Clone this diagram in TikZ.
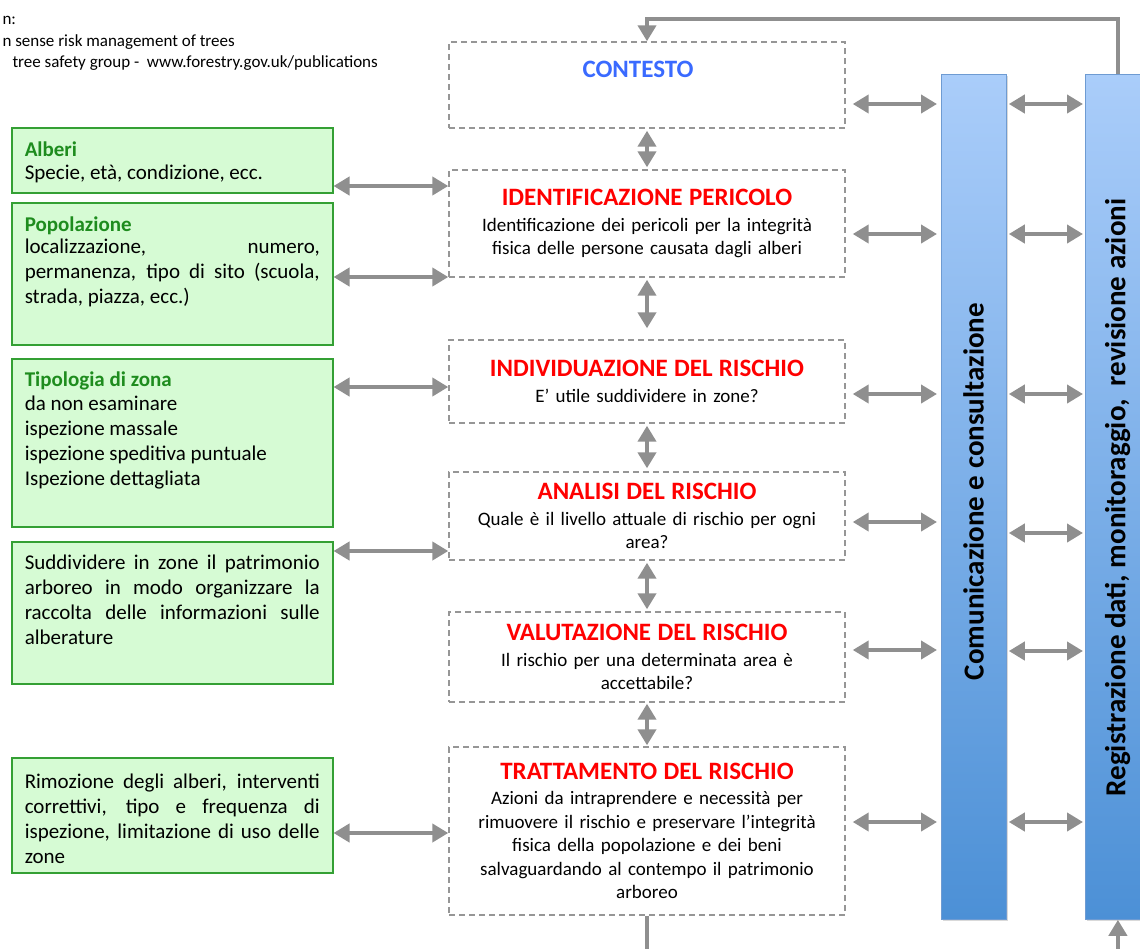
\documentclass[tikz,border=0pt]{standalone}
\usepackage{fontspec}
\setmainfont{Carlito}
\usetikzlibrary{arrows.meta,shadows}
\hyphenpenalty=10000
\exhyphenpenalty=10000
\tolerance=9999
\definecolor{cgray}{RGB}{143,143,143}
\definecolor{dashgray}{RGB}{150,150,150}
\definecolor{gfill}{RGB}{214,251,212}
\definecolor{gline}{RGB}{52,160,52}
\definecolor{gtitlecol}{RGB}{30,140,30}
\definecolor{ctitle}{RGB}{58,106,255}
\definecolor{coltop}{RGB}{170,205,250}
\definecolor{colbot}{RGB}{76,144,214}
\definecolor{colline}{RGB}{110,155,210}
\newcommand\gtitle[1]{{\bfseries\color{gtitlecol}#1}}
\newcommand\rtitle[1]{{\fontsize{25}{28}\selectfont\bfseries\color{red}#1}}
\begin{document}
\begin{tikzpicture}[x=1pt,y=-1pt,
  tipA/.tip={Triangle[length=16pt,width=18pt]},
  conn/.style={draw=cgray, line width=4.5pt, tipA-tipA},
  flow/.style={draw=cgray, line width=4.5pt, -tipA},
  midbox/.style={draw=dashgray, line width=1.4pt, dash pattern=on 6pt off 4pt,
    minimum width=396pt, text width=390pt, align=center, inner sep=3pt,
    font=\fontsize{19}{23.5}\selectfont},
  greenbox/.style={draw=gline, fill=gfill, line width=1.5pt, inner xsep=13pt,
    inner ysep=0pt, anchor=north west, font=\fontsize{21}{25}\selectfont},
  colbox/.style={draw=colline, line width=0.8pt, top color=coltop, bottom color=colbot,
    minimum width=65pt, minimum height=845pt, anchor=north west,
    drop shadow={shadow xshift=1.5pt, shadow yshift=-2pt, opacity=0.3}},
  coltext/.style={rotate=90, font=\fontsize{29}{32}\selectfont\bfseries},
  srctext/.style={anchor=base west, font=\fontsize{17}{20}\selectfont}
]
\clip (0,0) rectangle (1140,948);

% source note
\node[srctext] (src1) at (-1,24) {n:};
\node[srctext] (src2) at (-1,46) {n sense risk management of trees};
\node[srctext] (src3) at (9,67) {tree safety group -\ \ www.forestry.gov.uk/publications};

% middle process boxes
\node[midbox, minimum height=86pt] (contesto) at (647,85) {};
\node[font=\fontsize{25}{28}\selectfont\bfseries, text=ctitle] (contestotitle) at (638,69) {CONTESTO};
\node[midbox, minimum height=107pt] (ident) at (647,223.5)
  {\rtitle{IDENTIFICAZIONE PERICOLO}\\[2pt]
   Identificazione dei pericoli per la integrità\\
   fisica delle persone causata dagli alberi};
\node[midbox, minimum height=83pt] (indiv) at (647,381.5)
  {\rtitle{INDIVIDUAZIONE DEL RISCHIO}\\[2pt]
   E’ utile suddividere in zone?};
\node[midbox, minimum height=88pt] (analisi) at (647,516)
  {\rtitle{ANALISI DEL RISCHIO}\\[2pt]
   Quale è il livello attuale di rischio per ogni\\ area?};
\node[midbox, minimum height=90pt] (valut) at (647,657)
  {\rtitle{VALUTAZIONE DEL RISCHIO}\\[2pt]
   Il rischio per una determinata area è\\ accettabile?};
\node[midbox, minimum height=168pt] (tratt) at (647,831)
  {\rtitle{TRATTAMENTO DEL RISCHIO}\\[2pt]
   Azioni da intraprendere e necessità per\\
   rimuovere il rischio e preservare l’integrità\\
   fisica della popolazione e dei beni\\
   salvaguardando al contempo il patrimonio\\
   arboreo};

% left green boxes
\node[greenbox] (alberi) at (11,127)
  {\parbox[c][65pt][t]{295pt}{\rule{0pt}{29pt}\gtitle{Alberi}\\[-2pt]
   Specie, età, condizione, ecc.}};
\node[greenbox] (popol) at (11,202)
  {\parbox[c][142pt][t]{295pt}{\rule{0pt}{29pt}\gtitle{Popolazione}\\[-3pt]
   localizzazione, numero,\linebreak permanenza, tipo di sito (scuola,\linebreak strada, piazza, ecc.)}};
\node[greenbox] (tipol) at (11,358)
  {\parbox[c][168pt][t]{295pt}{\rule{0pt}{28pt}\gtitle{Tipologia di zona}\\[-1pt]
   da non esaminare\\ ispezione massale\\ ispezione speditiva puntuale\\ Ispezione dettagliata}};
\node[greenbox] (suddiv) at (11,541)
  {\parbox[c][142pt][t]{295pt}{\rule{0pt}{28pt}Suddividere in zone il patrimonio\linebreak
   arboreo in modo organizzare la\linebreak raccolta delle informazioni sulle\linebreak alberature}};
\node[greenbox] (rimoz) at (11,757)
  {\parbox[c][115pt][t]{295pt}{\rule{0pt}{31pt}Rimozione degli alberi, interventi\linebreak
   correttivi, tipo e frequenza di\linebreak ispezione, limitazione di uso delle\linebreak zone}};

% right columns
\node[colbox] (comm) at (941,74) {};
\node[colbox] (reg) at (1085,74) {};
\node[coltext] (commtext) at (973.5,491.5) {Comunicazione e consultazione};
\node[coltext] (regtext) at (1117.5,497.5) {Registrazione dati, monitoraggio,\ \ revisione azioni};

% vertical connectors
\draw[conn, shorten <=2pt, shorten >=2pt] (contesto.south) -- (ident.north);
\draw[conn, shorten <=2pt, shorten >=11pt] (ident.south) -- (indiv.north);
\draw[conn, shorten <=2pt, shorten >=3pt] (indiv.south) -- (analisi.north);
\draw[conn, shorten <=2pt, shorten >=2pt] (analisi.south) -- (valut.north);
\draw[conn, shorten <=1pt, shorten >=1pt] (valut.south) -- (tratt.north);

% left connectors
\draw[conn] (alberi.east |- 0,186) -- (ident.west |- 0,186);
\draw[conn] (popol.east |- 0,277) -- (ident.west |- 0,277);
\draw[conn] (tipol.east |- 0,387) -- (indiv.west |- 0,387);
\draw[conn] (suddiv.east |- 0,551) -- (analisi.west |- 0,551);
\draw[conn] (rimoz.east |- 0,833) -- (tratt.west |- 0,833);

% process boxes to communication column
\draw[conn, shorten <=7pt, shorten >=4pt] (contesto.east |- 0,104) -- (comm.west |- 0,104);
\draw[conn, shorten <=7pt, shorten >=4pt] (ident.east |- 0,234) -- (comm.west |- 0,234);
\draw[conn, shorten <=7pt, shorten >=4pt] (indiv.east |- 0,394) -- (comm.west |- 0,394);
\draw[conn, shorten <=7pt, shorten >=4pt] (analisi.east |- 0,522) -- (comm.west |- 0,522);
\draw[conn, shorten <=7pt, shorten >=4pt] (valut.east |- 0,650) -- (comm.west |- 0,650);
\draw[conn, shorten <=7pt, shorten >=4pt] (tratt.east |- 0,822) -- (comm.west |- 0,822);

% communication column to registration column
\draw[conn, shorten <=2pt, shorten >=2pt] (comm.east |- 0,104) -- (reg.west |- 0,104);
\draw[conn, shorten <=2pt, shorten >=2pt] (comm.east |- 0,234) -- (reg.west |- 0,234);
\draw[conn, shorten <=2pt, shorten >=2pt] (comm.east |- 0,394) -- (reg.west |- 0,394);
\draw[conn, shorten <=2pt, shorten >=2pt] (comm.east |- 0,533) -- (reg.west |- 0,533);
\draw[conn, shorten <=2pt, shorten >=2pt] (comm.east |- 0,651) -- (reg.west |- 0,651);
\draw[conn, shorten <=2pt, shorten >=2pt] (comm.east |- 0,822) -- (reg.west |- 0,822);

% feedback loops
\draw[flow] (reg.north) -- ++(0,-55) -| (contesto.north);
\draw[flow] (tratt.south) -- ++(0,60) -| (reg.south);
\end{tikzpicture}
\end{document}
